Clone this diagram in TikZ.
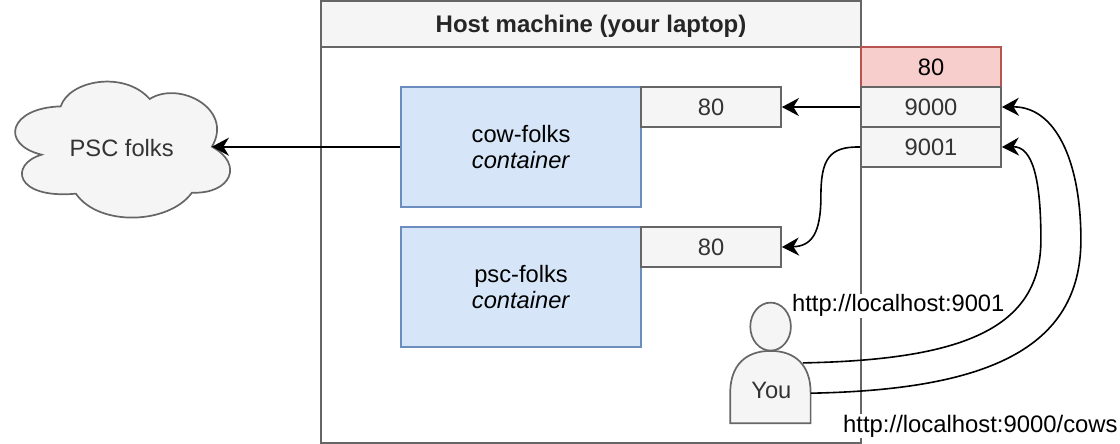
\documentclass[tikz,border=0pt]{standalone}
\usepackage{fontspec}
\setmainfont{Liberation Sans}
\usetikzlibrary{arrows.meta}
\tikzset{
  every node/.style={font=\fontsize{23.7}{26.5}\selectfont},
  grayshape/.style={draw=boxline,fill=boxfill,line width=1.7pt,line join=miter},
  graybox/.style={grayshape,text=boxtext,minimum width=140pt,minimum height=40pt,inner sep=0pt,anchor=north west},
  bluebox/.style={draw=blueline,fill=bluefill,line width=1.7pt,minimum width=240pt,minimum height=120pt,inner sep=0pt,align=center,anchor=north west},
  redbox/.style={draw=redline,fill=redfill,line width=1.7pt,minimum width=140pt,minimum height=40pt,inner sep=0pt,anchor=north west},
  conn/.style={draw=black,line width=1.6pt,-{Stealth[length=17pt,width=18pt,inset=5.5pt]}},
  plaintext/.style={fill=white,inner sep=1pt,anchor=west},
}
\definecolor{boxline}{HTML}{666666}
\definecolor{boxfill}{HTML}{F5F5F5}
\definecolor{boxtext}{HTML}{333333}
\definecolor{blueline}{HTML}{6C8EBF}
\definecolor{bluefill}{HTML}{D6E6F8}
\definecolor{redline}{HTML}{B85450}
\definecolor{redfill}{HTML}{F8CECC}
\begin{document}
\begin{tikzpicture}[x=1pt,y=-1pt]
\useasboundingbox (0.8,0.8) rectangle (1120.8,444.8);
% host machine
\node[draw=boxline,fill=white,line width=1.7pt,minimum width=540pt,minimum height=442pt,inner sep=0pt,anchor=north west] (host) at (321,1) {};
\node[graybox,minimum width=540pt,minimum height=46pt,text=black!85,font=\fontsize{24}{27}\selectfont\bfseries] (hosthead) at (321,1) {\raisebox{-2.5pt}[17pt][5pt]{Host machine (your laptop)}};
% containers
\node[bluebox] (cow) at (401,87) {cow-folks\\\textit{container}};
\node[graybox] (cowport) at (641,87) {80};
\node[bluebox] (psc) at (401,227) {psc-folks\\\textit{container}};
\node[graybox] (pscport) at (641,227) {80};
% host ports
\node[redbox] (p80) at (861,47) {80};
\node[graybox] (p9000) at (861,87) {9000};
\node[graybox] (p9001) at (861,127) {9001};
% cloud
\filldraw[grayshape] (61.5,107.2) .. controls (70,81) and (125,71) .. (150.5,99.8)
  .. controls (180,81) and (235,110) .. (212.7,147.5)
  .. controls (245,165) and (232,195) .. (192.7,193.5)
  .. controls (170,225) and (100,228) .. (76.7,194.5)
  .. controls (15,200) and (10,165) .. (42.4,155.5)
  .. controls (0,145) and (10,108.5) .. cycle;
\node[text=boxtext,inner sep=0pt] (cloud) at (122.5,148.5) {PSC folks};
\coordinate (cloudeast) at (212.7,147.5);
% person
\filldraw[grayshape] (731,424) -- (731,392.7) .. controls (731.5,366.7) and (745.7,351.7) .. (771.4,351.7)
  .. controls (796.7,351.7) and (811.2,366.7) .. (811.4,392.7) -- (811.4,424) -- cycle;
\filldraw[grayshape] (771.4,327.4) ellipse (20.3pt and 24pt);
\node[text=boxtext,inner sep=0pt] (you) at (772.2,391.7) {You};
\coordinate (youa) at (803.7,363.7);
\coordinate (youb) at (811.4,394);
% connectors
\draw[conn] (p9000.west) -- (cowport.east);
\draw[conn] (cow.west |- cloudeast) -- (cloudeast);
\draw[conn] (p9001.west) .. controls (830,147) and (821.7,160) .. (821.7,197)
  .. controls (821.7,235) and (812,247) .. (pscport.east);
\draw[conn] (youa) .. controls (960.7,360.7) and (1041.7,330.7) .. (1041.7,240.7)
  .. controls (1041.7,180.7) and (1033.7,147) .. (p9001.east);
\draw[conn] (youb) .. controls (985.7,390.7) and (1081.7,350.7) .. (1081.7,240.7)
  .. controls (1081.7,160.7) and (1055.7,107) .. (p9000.east);
% labels
\node[plaintext] (la) at (791.8,306.5) {http://localhost:9001};
\node[plaintext,font=\fontsize{23.85}{27}\selectfont] (lb) at (842.8,427) {http://localhost:9000/cows};
\end{tikzpicture}
\end{document}
